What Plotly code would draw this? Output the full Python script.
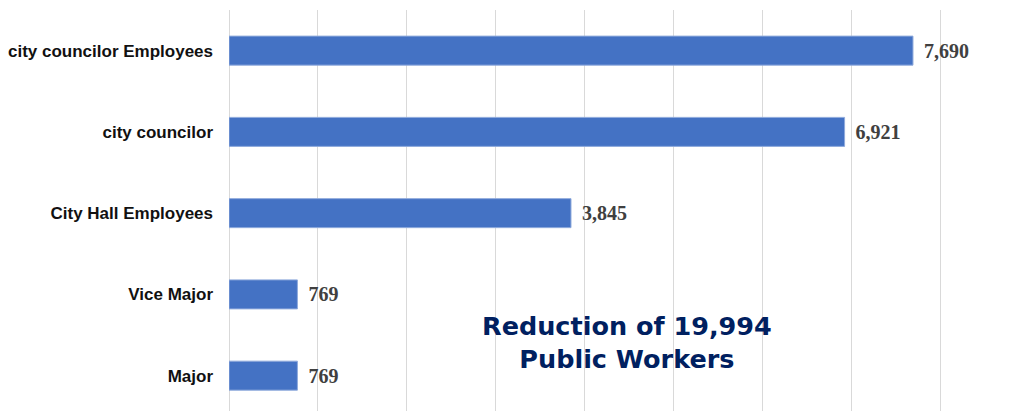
import plotly.graph_objects as go

categories = ["Major", "Vice Major", "City Hall Employees", "city councilor", "city councilor Employees"]
values = [769, 769, 3845, 6921, 7690]
note_text = "Reduction of 19,994<br>Public Workers"

fig = go.Figure()
fig.add_trace(go.Bar(
    y=categories,
    x=values,
    orientation="h",
    marker=dict(color="#4472C4", line=dict(color="#8FAADC", width=1)),
    text=["\u2009\u2009" + f"{v:,}" for v in values],
    textposition="outside",
    cliponaxis=False,
    textfont=dict(family="Liberation Serif", size=20, color="#404040", weight="bold"),
    hoverinfo="skip",
))

fig.add_annotation(
    x=4480, y=0.41, xref="x", yref="y",
    text="<b>" + note_text + "</b>",
    showarrow=False,
    font=dict(family="DejaVu Sans", size=25.5, color="#002060"),
    align="center",
)

# page body has a default 8px margin, so the figure is 8px smaller
fig.update_layout(
    width=1011, height=403,
    margin=dict(l=221, r=74, t=2, b=0, autoexpand=False),
    plot_bgcolor="white", paper_bgcolor="white",
    bargap=0.643,
    showlegend=False,
    xaxis=dict(range=[0, 8050], dtick=1000, showticklabels=False,
               showgrid=True, gridcolor="#D9D9D9", gridwidth=1,
               zeroline=True, zerolinecolor="#D9D9D9", zerolinewidth=1,
               showline=False, fixedrange=True, automargin=False),
    yaxis=dict(range=[-0.435, 4.5], showgrid=False, zeroline=False,
               ticks="", ticklabelstandoff=15, automargin=False,
               tickfont=dict(family="Liberation Sans", size=17, color="#111111", weight="bold"),
               fixedrange=True),
)

fig.write_html("out.html")
